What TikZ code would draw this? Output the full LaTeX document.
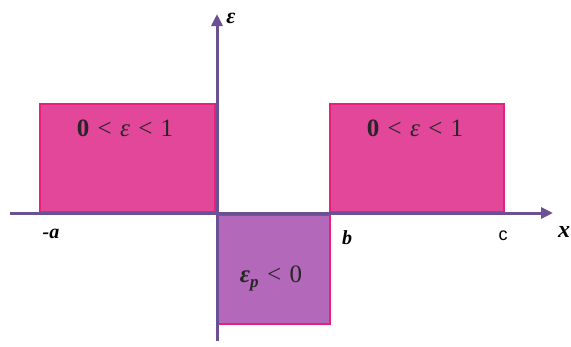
\documentclass[tikz,border=0pt]{standalone}
\usepackage{fontspec}
\setmainfont{Liberation Serif}
\newfontfamily\sansf{Liberation Sans}
\usetikzlibrary{arrows.meta}
\definecolor{pinkfill}{HTML}{E2479A}
\definecolor{pinkedge}{HTML}{E8207C}
\definecolor{purplefill}{HTML}{B368B9}
\definecolor{axiscol}{HTML}{6B5094}
\tikzset{
  zonebox/.style={draw=pinkedge, line width=1.5pt, fill=pinkfill, inner sep=0pt},
  negbox/.style={draw=pinkedge, line width=1.5pt, fill=purplefill, inner sep=0pt},
  axis/.style={draw=axiscol, line width=3pt, -{Triangle[length=12pt,width=11pt]}},
  boxtext/.style={font=\fontsize{25}{28}\selectfont, text=black!85, inner sep=0pt},
  axlabel/.style={font=\fontsize{20}{24}\selectfont\bfseries\itshape, inner sep=0pt},
}
\begin{document}
\begin{tikzpicture}[x=1pt,y=-1pt]
\useasboundingbox (0,0) rectangle (571,346);
% boxes
\node[zonebox, minimum width=175pt, minimum height=108pt] (left) at (127.5,158) {};
\node[zonebox, minimum width=174pt, minimum height=108pt] (right) at (417,158) {};
\node[negbox, minimum width=112pt, minimum height=109pt] (neg) at (274,269.5) {};
% box texts
\node[boxtext] (lt) at (125,128) {\textbf{0}\,\,<\,\,\textit{ε}\,\,<\,\,1};
\node[boxtext] (rt) at (415,128) {\textbf{0}\,\,<\,\,\textit{ε}\,\,<\,\,1};
\node[boxtext] (nt) at (271,278) {\textbf{\textit{ε}}{\raisebox{-5pt}{\fontsize{17}{18}\selectfont\textbf{\textit{p}}}}\,\,<\,\,0};
% axes
\coordinate (xs) at (10,213);
\coordinate (xe) at (553,213);
\coordinate (ys) at (217,341);
\coordinate (ye) at (217,14);
\draw[axis] (xs) -- (xe);
\draw[axis] (ys) -- (ye);
% labels
\node[axlabel] (la) at (51,234) {-a};
\node[axlabel] (lb) at (347,238) {b};
\node[font=\fontsize{18}{20}\selectfont\sansf, inner sep=0pt] (lc) at (503,236) {c};
\node[axlabel, font=\fontsize{24}{28}\selectfont\bfseries\itshape] (lx) at (564,232) {x};
\node[axlabel, font=\fontsize{22}{26}\selectfont\bfseries\itshape] (le) at (231,18) {ε};
\end{tikzpicture}
\end{document}
